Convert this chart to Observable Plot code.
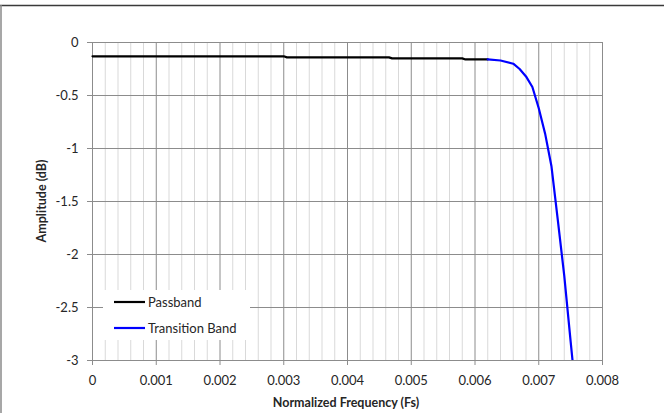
<!DOCTYPE html>
<html>
<head>
<meta charset="utf-8">
<script src="https://cdn.jsdelivr.net/npm/d3@7"></script>
<script src="https://cdn.jsdelivr.net/npm/@observablehq/plot@0.6"></script>
<style>
  html, body { margin: 0; padding: 0; background: #fff; }
  #chart { position: relative; width: 664px; height: 413px; }
  svg { font-family: Lato, "Open Sans", sans-serif; }
</style>
</head>
<body>
<div id="chart"></div>
<script>
// Data
const passbandFreq = [0, 0.00300, 0.00305, 0.00465, 0.00470, 0.00580, 0.00585, 0.00620];
const passbandAmp  = [-0.13, -0.13, -0.14, -0.14, -0.15, -0.15, -0.16, -0.16];
const transFreq = [0.00620, 0.00640, 0.00660, 0.00670, 0.00680, 0.00690, 0.00700, 0.00710, 0.00720, 0.00730, 0.00740, 0.00750, 0.00753];
const transAmp  = [-0.16, -0.17, -0.20, -0.25, -0.32, -0.42, -0.62, -0.86, -1.17, -1.68, -2.2, -2.82, -3.0];
const xTicks = [0, 0.001, 0.002, 0.003, 0.004, 0.005, 0.006, 0.007, 0.008];
const xMinor = [0.0002,0.0004,0.0006,0.0008,0.0012,0.0014,0.0016,0.0018,0.0022,0.0024,0.0026,0.0028,0.0032,0.0034,0.0036,0.0038,0.0042,0.0044,0.0046,0.0048,0.0052,0.0054,0.0056,0.0058,0.0062,0.0064,0.0066,0.0068,0.0072,0.0074,0.0076,0.0078];
const yTicks = [0, -0.5, -1, -1.5, -2, -2.5, -3];
const seriesNames = ["Passband", "Transition Band"];
const seriesColors = ["#000000", "#0000ff"];

const passband = passbandFreq.map((f, i) => ({f, a: passbandAmp[i]}));
const trans = transFreq.map((f, i) => ({f, a: transAmp[i]}));

const majorGrid = "#8c8c8c";
const minorGrid = "#d9d9d9";
const textColor = "#262626";

const plot = Plot.plot({
  width: 664,
  height: 413,
  marginLeft: 92,
  marginRight: 62,
  marginTop: 42,
  marginBottom: 53,
  style: {fontFamily: "Lato, 'Open Sans', sans-serif", fontSize: "13px", color: textColor, background: "#fff"},
  x: {domain: [0, 0.008], ticks: xTicks, tickFormat: d => d === 0 ? "0" : d.toFixed(3), label: null},
  y: {domain: [-3, 0], ticks: yTicks, tickFormat: d => String(d), label: null},
  marks: [
    Plot.ruleX(xMinor, {stroke: minorGrid, strokeWidth: 1}),
    Plot.ruleX(xTicks, {stroke: majorGrid, strokeWidth: 1}),
    Plot.ruleY(yTicks, {stroke: majorGrid, strokeWidth: 1}),
    Plot.axisX({ticks: xTicks, tickFormat: d => d === 0 ? "0" : d.toFixed(3), tickSize: 5, tickPadding: 10, stroke: majorGrid, label: null, fill: textColor}),
    Plot.axisY({ticks: yTicks, tickFormat: d => String(d), tickSize: 5, tickPadding: 9, stroke: majorGrid, label: null, fill: textColor}),
    Plot.line(passband, {x: "f", y: "a", stroke: seriesColors[0], strokeWidth: 2.2}),
    Plot.line(trans, {x: "f", y: "a", stroke: seriesColors[1], strokeWidth: 2.2, clip: true})
  ]
});

document.getElementById("chart").appendChild(plot);

const svg = d3.select(plot);
// Outer chart border (top and left)
svg.append("line").attr("x1", 0).attr("x2", 664).attr("y1", 5.5).attr("y2", 5.5).attr("stroke", "#3a3a3a").attr("stroke-width", 1.5);
svg.append("line").attr("x1", 1).attr("x2", 1).attr("y1", 5).attr("y2", 413).attr("stroke", "#8a8a8a").attr("stroke-width", 1.5);

// Axis titles
svg.append("text").attr("x", 346).attr("y", 407).attr("text-anchor", "middle")
  .attr("font-weight", "bold").attr("font-size", "12.5px").attr("fill", textColor).text("Normalized Frequency (Fs)");
svg.append("text").attr("transform", "translate(46,201) rotate(-90)").attr("text-anchor", "middle")
  .attr("font-weight", "bold").attr("font-size", "12.5px").attr("fill", textColor).text("Amplitude (dB)");

// Legend
const lg = svg.append("g");
lg.append("rect").attr("x", 103).attr("y", 290).attr("width", 147).attr("height", 50).attr("fill", "#fff");
seriesNames.forEach((name, i) => {
  const y = 302 + i * 26;
  lg.append("line").attr("x1", 114).attr("x2", 145).attr("y1", y).attr("y2", y).attr("stroke", seriesColors[i]).attr("stroke-width", 2.2);
  lg.append("text").attr("x", 148).attr("y", y).attr("dy", "0.35em").attr("text-anchor", "start")
    .attr("font-size", "13px").attr("fill", textColor).text(name);
});
</script>
</body>
</html>
